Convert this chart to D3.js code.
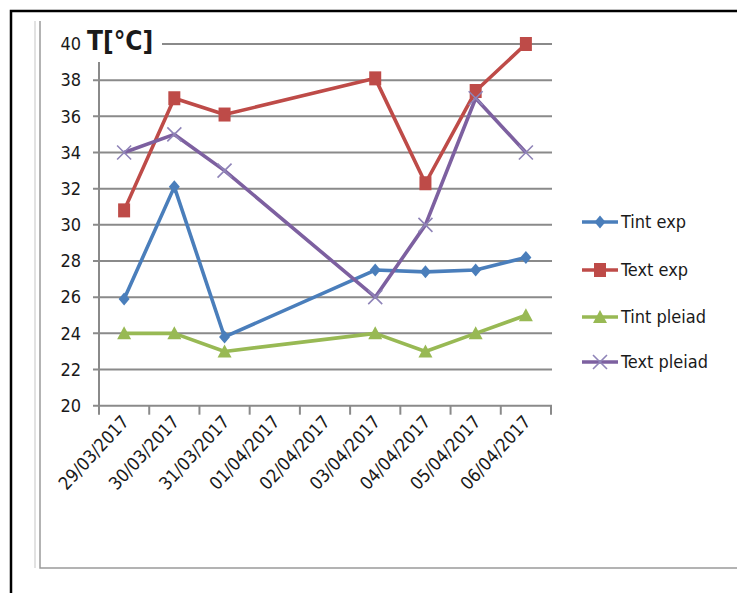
<!DOCTYPE html>
<html>
<head>
<meta charset="utf-8">
<script src="https://cdn.jsdelivr.net/npm/d3@7"></script>
<style>
  html, body { margin: 0; padding: 0; background: #fff; }
  svg { display: block; }
  text { font-family: "DejaVu Sans Condensed", "DejaVu Sans", Arial, sans-serif; fill: #1a1a1a; }
</style>
</head>
<body>
<svg id="chart" width="737" height="593"></svg>
<script>
// ---- data ----
const categories = ["29/03/2017", "30/03/2017", "31/03/2017", "01/04/2017", "02/04/2017",
                    "03/04/2017", "04/04/2017", "05/04/2017", "06/04/2017"];
const tintExp    = [25.9, 32.1, 23.8, null, null, 27.5, 27.4, 27.5, 28.2];
const textExp    = [30.8, 37.0, 36.1, null, null, 38.1, 32.3, 37.4, 40.0];
const tintPleiad = [24.0, 24.0, 23.0, null, null, 24.0, 23.0, 24.0, 25.0];
const textPleiad = [34.0, 35.0, 33.0, null, null, 26.0, 30.0, 37.0, 34.0];
const seriesNames = ["Tint exp", "Text exp", "Tint pleiad", "Text pleiad"];
const yTicks = [20, 22, 24, 26, 28, 30, 32, 34, 36, 38, 40];
const yTitle = "T[°C]";

// ---- styles ----
const colors  = ["#4A7EBB", "#BE4B48", "#98B954", "#7D60A0"];
const markers = ["diamond", "square", "triangle", "cross"];
const seriesData = [tintExp, textExp, tintPleiad, textPleiad];

const svg = d3.select("#chart");
svg.append("rect").attr("width", 737).attr("height", 593).attr("fill", "#fff");

// frames
svg.append("path").attr("d", "M35,21V568").attr("stroke", "#d8d8d8").attr("stroke-width", 1.5).attr("fill", "none");
svg.append("path").attr("d", "M40,21V568H737").attr("stroke", "#9a9a9a").attr("stroke-width", 1.5).attr("fill", "none");
svg.append("path").attr("d", "M11,593V11H737").attr("stroke", "#000").attr("stroke-width", 2.5).attr("fill", "none");

const plotL = 99, plotR = 551, plotT = 44, plotB = 405.7;
const x = d3.scaleBand().domain(categories).range([plotL, plotR]);
const y = d3.scaleLinear().domain([20, 40]).range([plotB, plotT]);
const cx = c => x(c) + x.bandwidth() / 2;

// gridlines
svg.append("g").selectAll("line").data(yTicks).join("line")
  .attr("x1", plotL - 6).attr("x2", plotR + 1)
  .attr("y1", d => y(d)).attr("y2", d => y(d))
  .attr("stroke", "#8a8a8a").attr("stroke-width", 2);

// y axis line
svg.append("line").attr("x1", plotL).attr("x2", plotL).attr("y1", y(20)).attr("y2", y(40))
  .attr("stroke", "#8a8a8a").attr("stroke-width", 2);

// y title (with white box covering grid, like the original)
svg.append("rect").attr("x", 84).attr("y", 20).attr("width", 78).attr("height", 42).attr("fill", "#fff");
svg.append("text").attr("x", 87).attr("y", 50).attr("font-size", 26).attr("font-weight", "bold")
  .attr("fill", "#000").text(yTitle);

// y axis labels
const yAxis = d3.axisLeft(y).tickValues(yTicks).tickSize(0).tickPadding(18);
const gy = svg.append("g").attr("transform", `translate(${plotL},0)`).call(yAxis);
gy.select(".domain").remove();
gy.selectAll("text").attr("font-size", 18)
  .attr("font-family", "DejaVu Sans Condensed, DejaVu Sans, Arial, sans-serif")
  .attr("fill", "#1a1a1a");

// x ticks at category boundaries
const bounds = categories.map(c => x(c)).concat([plotR]);
svg.append("g").selectAll("line").data(bounds).join("line")
  .attr("x1", d => d).attr("x2", d => d).attr("y1", plotB).attr("y2", plotB + 9)
  .attr("stroke", "#8a8a8a").attr("stroke-width", 2);

// x labels
svg.append("g").selectAll("text").data(categories).join("text")
  .attr("transform", d => `translate(${cx(d) + 6},${plotB + 17}) rotate(-47)`)
  .attr("text-anchor", "end").attr("font-size", 18).text(d => d);

// marker drawing
function drawMarker(g, type, color, px, py) {
  if (type === "diamond") {
    g.append("path").attr("d", `M${px},${py-6.5}L${px+5.5},${py}L${px},${py+6.5}L${px-5.5},${py}Z`).attr("fill", color);
  } else if (type === "square") {
    g.append("rect").attr("x", px - 6).attr("y", py - 7).attr("width", 12).attr("height", 14).attr("fill", color);
  } else if (type === "triangle") {
    g.append("path").attr("d", `M${px},${py-7}L${px+7},${py+6}L${px-7},${py+6}Z`).attr("fill", color);
  } else {
    g.append("path").attr("d", `M${px-7},${py-7}L${px+7},${py+7}M${px+7},${py-7}L${px-7},${py+7}`)
      .attr("stroke", "#8f84b8").attr("stroke-width", 1.6).attr("fill", "none");
  }
}

// series
const line = d3.line().x(d => cx(d.c)).y(d => y(d.v));
seriesData.forEach((vals, i) => {
  const pts = categories.map((c, j) => ({ c, v: vals[j] })).filter(d => d.v != null);
  const g = svg.append("g");
  g.append("path").attr("d", line(pts)).attr("fill", "none")
    .attr("stroke", colors[i]).attr("stroke-width", 3.6).attr("stroke-linejoin", "round");
  pts.forEach(p => drawMarker(g, markers[i], colors[i], cx(p.c), y(p.v)));
});

// legend
const legendY = [222, 270, 317, 362];
seriesNames.forEach((name, i) => {
  const g = svg.append("g");
  const ly = legendY[i];
  g.append("line").attr("x1", 582).attr("x2", 618).attr("y1", ly).attr("y2", ly)
    .attr("stroke", colors[i]).attr("stroke-width", 3.6);
  drawMarker(g, markers[i], colors[i], 600, ly);
  g.append("text").attr("x", 621).attr("y", ly + 6).attr("font-size", 18).text(name);
});
</script>
</body>
</html>
